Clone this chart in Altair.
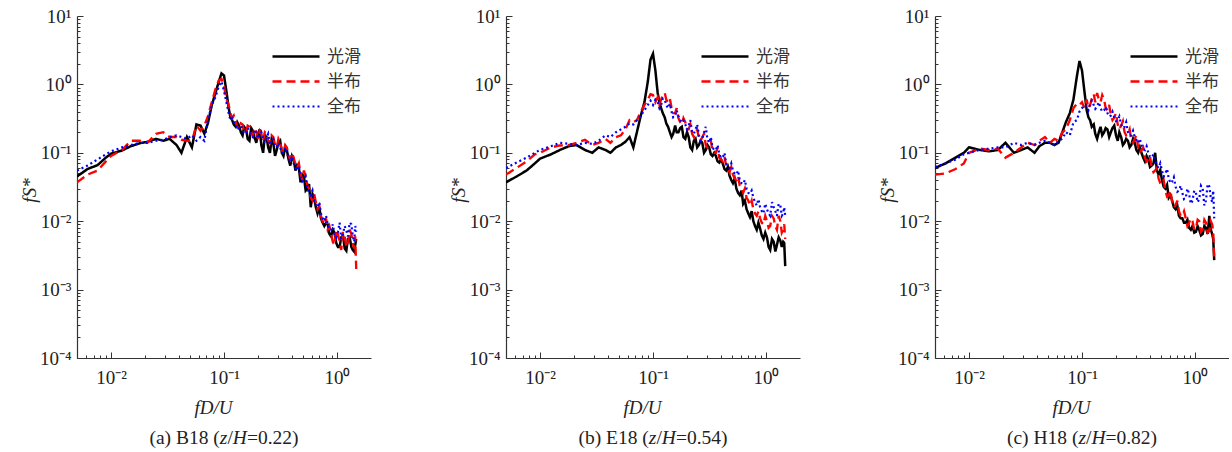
import altair as alt
import pandas as pd

# ---------------- data ----------------
FREQ = [0.005, 0.0062, 0.0076, 0.009, 0.01, 0.0125, 0.015, 0.018, 0.021, 0.025,
        0.029, 0.033, 0.038, 0.042, 0.047, 0.052, 0.057, 0.062, 0.067, 0.072,
        0.078, 0.084, 0.09, 0.095, 0.1, 0.105, 0.11, 0.118, 0.127, 0.136,
        0.146, 0.157, 0.168, 0.18, 0.193, 0.207, 0.222, 0.238, 0.255, 0.273,
        0.293, 0.314, 0.336, 0.36, 0.386, 0.414, 0.444, 0.476, 0.51, 0.547,
        0.586, 0.628, 0.673, 0.721, 0.773, 0.828, 0.887, 0.95, 1.02, 1.09,
        1.17, 1.25, 1.34, 1.42, 1.48]
# extra samples in the noisy high-frequency part
FREQ_HF = [0.114, 0.122, 0.131, 0.141, 0.151, 0.162, 0.174, 0.186, 0.2, 0.214,
           0.23, 0.246, 0.264, 0.283, 0.303, 0.325, 0.348, 0.373, 0.4, 0.429,
           0.46, 0.493, 0.528, 0.566, 0.607, 0.65, 0.697, 0.747, 0.8, 0.857,
           0.918, 0.985, 1.055, 1.13, 1.21, 1.295, 1.38, 1.45]

SERIES = ["光滑", "半布", "全布"]

B18_SMOOTH = [0.045, 0.058, 0.066, 0.085, 0.097, 0.108, 0.125, 0.138, 0.145, 0.16,
              0.15, 0.16, 0.13, 0.10, 0.17, 0.12, 0.26, 0.25, 0.19, 0.27,
              0.5, 0.75, 1.1, 1.45, 1.35, 0.8, 0.45, 0.3, 0.24, 0.25,
              0.18, 0.22, 0.15, 0.21, 0.14, 0.22, 0.1, 0.17, 0.1, 0.14,
              0.11, 0.15, 0.09, 0.11, 0.065, 0.08, 0.066, 0.037, 0.045, 0.03,
              0.016, 0.022, 0.013, 0.011, 0.0085, 0.009, 0.006, 0.0068, 0.0042, 0.0058,
              0.004, 0.0055, 0.0042, 0.0036, 0.0055]
B18_SMOOTH_HF = [0.33, 0.26, 0.28, 0.2, 0.24, 0.16, 0.23, 0.17, 0.19, 0.13,
                 0.18, 0.12, 0.16, 0.09, 0.14, 0.1, 0.12, 0.08, 0.09, 0.055,
                 0.06, 0.048, 0.028, 0.035, 0.025, 0.016, 0.016, 0.0095, 0.0095, 0.0065,
                 0.0075, 0.0048, 0.0042, 0.0062, 0.0037, 0.0058, 0.0038, 0.0045]
B18_HALF = [0.037, 0.048, 0.055, 0.075, 0.09, 0.11, 0.15, 0.15, 0.14, 0.19,
            0.2, 0.17, 0.17, 0.155, 0.15, 0.15, 0.25, 0.21, 0.25, 0.34,
            0.55, 0.85, 1.15, 1.2, 0.95, 0.6, 0.5, 0.32, 0.28, 0.22,
            0.26, 0.2, 0.24, 0.18, 0.2, 0.21, 0.15, 0.19, 0.14, 0.17,
            0.12, 0.14, 0.1, 0.12, 0.08, 0.085, 0.06, 0.05, 0.055, 0.033,
            0.022, 0.025, 0.015, 0.012, 0.009, 0.0075, 0.0065, 0.0045, 0.0065, 0.0038,
            0.006, 0.0045, 0.0065, 0.004, 0.002]
B18_HALF_HF = [0.38, 0.35, 0.24, 0.27, 0.2, 0.25, 0.19, 0.23, 0.16, 0.19,
               0.2, 0.15, 0.18, 0.13, 0.16, 0.11, 0.13, 0.09, 0.1, 0.065,
               0.07, 0.04, 0.045, 0.03, 0.02, 0.019, 0.017, 0.01, 0.011, 0.0085,
               0.005, 0.0075, 0.005, 0.007, 0.0042, 0.0075, 0.0048, 0.006]
B18_FULL = [0.055, 0.065, 0.08, 0.095, 0.105, 0.12, 0.13, 0.14, 0.14, 0.15,
            0.155, 0.17, 0.18, 0.17, 0.16, 0.18, 0.15, 0.17, 0.15, 0.3,
            0.5, 0.65, 0.95, 1.1, 0.8, 0.55, 0.38, 0.32, 0.27, 0.23,
            0.22, 0.2, 0.21, 0.17, 0.2, 0.18, 0.16, 0.17, 0.13, 0.16,
            0.12, 0.12, 0.1, 0.1, 0.075, 0.07, 0.055, 0.045, 0.04, 0.03,
            0.024, 0.02, 0.016, 0.013, 0.01, 0.009, 0.0075, 0.0065, 0.007, 0.0055,
            0.0085, 0.006, 0.009, 0.005, 0.007]
B18_FULL_HF = [0.3, 0.28, 0.22, 0.25, 0.19, 0.23, 0.18, 0.22, 0.16, 0.2,
               0.14, 0.19, 0.15, 0.13, 0.14, 0.1, 0.12, 0.085, 0.09, 0.06,
               0.065, 0.038, 0.045, 0.026, 0.028, 0.017, 0.019, 0.011, 0.012, 0.0075,
               0.009, 0.0058, 0.0095, 0.0065, 0.0072, 0.0095, 0.006, 0.0085]

E18_SMOOTH = [0.037, 0.045, 0.055, 0.07, 0.082, 0.095, 0.11, 0.125, 0.13, 0.11,
              0.1, 0.12, 0.11, 0.1, 0.12, 0.13, 0.145, 0.17, 0.12, 0.2,
              0.35, 0.55, 1.1, 2.3, 2.8, 1.6, 0.75, 0.45, 0.33, 0.24,
              0.17, 0.25, 0.2, 0.24, 0.16, 0.17, 0.11, 0.16, 0.13, 0.14,
              0.11, 0.12, 0.09, 0.09, 0.072, 0.07, 0.055, 0.046, 0.036, 0.03,
              0.024, 0.018, 0.015, 0.0115, 0.01, 0.0075, 0.0078, 0.0055, 0.0058, 0.0038,
              0.005, 0.0045, 0.0052, 0.005, 0.0022]
E18_SMOOTH_HF = [0.55, 0.38, 0.27, 0.2, 0.19, 0.2, 0.23, 0.17, 0.2, 0.12,
                 0.15, 0.12, 0.15, 0.1, 0.13, 0.095, 0.1, 0.075, 0.08, 0.058,
                 0.062, 0.04, 0.042, 0.026, 0.028, 0.02, 0.013, 0.014, 0.0085, 0.0095,
                 0.0062, 0.0068, 0.0042, 0.0055, 0.0036, 0.0058, 0.0042, 0.0048]
E18_HALF = [0.048, 0.06, 0.075, 0.095, 0.1, 0.12, 0.128, 0.13, 0.14, 0.155,
            0.13, 0.14, 0.16, 0.14, 0.17, 0.18, 0.22, 0.3, 0.28, 0.3,
            0.4, 0.5, 0.6, 0.72, 0.7, 0.55, 0.65, 0.6, 0.75, 0.55,
            0.45, 0.38, 0.32, 0.26, 0.28, 0.22, 0.19, 0.2, 0.16, 0.17,
            0.13, 0.135, 0.11, 0.1, 0.085, 0.075, 0.065, 0.052, 0.048, 0.04,
            0.033, 0.026, 0.022, 0.017, 0.015, 0.012, 0.011, 0.009, 0.01, 0.0085,
            0.011, 0.0075, 0.01, 0.0075, 0.0055]
E18_HALF_HF = [0.5, 0.7, 0.6, 0.62, 0.38, 0.45, 0.28, 0.32, 0.22, 0.26,
               0.17, 0.22, 0.15, 0.19, 0.12, 0.15, 0.1, 0.12, 0.08, 0.088,
               0.06, 0.062, 0.042, 0.046, 0.03, 0.03, 0.02, 0.02, 0.013, 0.014,
               0.0095, 0.012, 0.008, 0.012, 0.0085, 0.012, 0.0068, 0.009]
E18_FULL = [0.06, 0.072, 0.085, 0.1, 0.11, 0.125, 0.14, 0.135, 0.13, 0.14,
            0.135, 0.15, 0.18, 0.17, 0.2, 0.22, 0.24, 0.27, 0.26, 0.3,
            0.35, 0.42, 0.5, 0.58, 0.5, 0.6, 0.55, 0.5, 0.6, 0.45,
            0.4, 0.35, 0.34, 0.28, 0.26, 0.25, 0.2, 0.22, 0.18, 0.16,
            0.24, 0.14, 0.12, 0.11, 0.095, 0.085, 0.07, 0.06, 0.055, 0.048,
            0.04, 0.035, 0.03, 0.025, 0.022, 0.017, 0.016, 0.013, 0.015, 0.012,
            0.016, 0.012, 0.017, 0.013, 0.012]
E18_FULL_HF = [0.45, 0.62, 0.5, 0.52, 0.33, 0.42, 0.3, 0.3, 0.22, 0.3,
               0.19, 0.26, 0.15, 0.2, 0.16, 0.17, 0.11, 0.13, 0.085, 0.1,
               0.065, 0.07, 0.05, 0.055, 0.036, 0.04, 0.026, 0.028, 0.019, 0.021,
               0.014, 0.018, 0.013, 0.019, 0.014, 0.018, 0.012, 0.016]

H18_SMOOTH = [0.06, 0.07, 0.085, 0.1, 0.12, 0.11, 0.105, 0.11, 0.14, 0.1,
              0.11, 0.12, 0.1, 0.125, 0.14, 0.14, 0.13, 0.14, 0.2, 0.28,
              0.38, 0.6, 1.3, 2.2, 1.6, 0.8, 0.42, 0.3, 0.26, 0.16,
              0.24, 0.2, 0.22, 0.2, 0.25, 0.15, 0.17, 0.14, 0.15, 0.13,
              0.14, 0.1, 0.1, 0.075, 0.08, 0.065, 0.1, 0.048, 0.04, 0.03,
              0.022, 0.02, 0.015, 0.012, 0.011, 0.0095, 0.008, 0.0085, 0.007, 0.0075,
              0.0065, 0.008, 0.012, 0.0065, 0.0027]
H18_SMOOTH_HF = [0.33, 0.24, 0.19, 0.2, 0.18, 0.23, 0.17, 0.23, 0.18, 0.2,
                 0.13, 0.16, 0.12, 0.16, 0.11, 0.12, 0.085, 0.09, 0.062, 0.07,
                 0.055, 0.056, 0.032, 0.034, 0.024, 0.016, 0.017, 0.011, 0.0095, 0.0105,
                 0.0075, 0.0068, 0.0085, 0.0062, 0.0085, 0.0065, 0.0075, 0.0055]
H18_HALF = [0.048, 0.05, 0.058, 0.07, 0.1, 0.115, 0.11, 0.115, 0.085, 0.1,
            0.12, 0.14, 0.13, 0.15, 0.17, 0.14, 0.16, 0.15, 0.2, 0.22,
            0.3, 0.45, 0.52, 0.5, 0.55, 0.45, 0.6, 0.5, 0.72, 0.75,
            0.55, 0.6, 0.42, 0.35, 0.33, 0.26, 0.25, 0.2, 0.19, 0.15,
            0.16, 0.12, 0.11, 0.085, 0.08, 0.06, 0.055, 0.042, 0.035, 0.028,
            0.024, 0.019, 0.017, 0.014, 0.012, 0.011, 0.0095, 0.01, 0.008, 0.01,
            0.0075, 0.0095, 0.0072, 0.009, 0.0027]
H18_HALF_HF = [0.45, 0.62, 0.55, 0.6, 0.7, 0.45, 0.5, 0.3, 0.38, 0.22,
               0.29, 0.18, 0.22, 0.14, 0.18, 0.1, 0.12, 0.075, 0.09, 0.052,
               0.06, 0.036, 0.04, 0.023, 0.028, 0.016, 0.02, 0.012, 0.014, 0.0085,
               0.011, 0.0075, 0.0105, 0.007, 0.0105, 0.0068, 0.01, 0.007]
H18_FULL = [0.062, 0.07, 0.08, 0.095, 0.1, 0.11, 0.115, 0.12, 0.12, 0.14,
            0.13, 0.14, 0.13, 0.14, 0.15, 0.14, 0.13, 0.15, 0.16, 0.2,
            0.18, 0.28, 0.3, 0.4, 0.45, 0.5, 0.48, 0.52, 0.5, 0.48,
            0.45, 0.42, 0.38, 0.35, 0.33, 0.3, 0.26, 0.24, 0.2, 0.18,
            0.17, 0.14, 0.13, 0.11, 0.1, 0.085, 0.075, 0.06, 0.055, 0.05,
            0.042, 0.038, 0.032, 0.028, 0.026, 0.022, 0.025, 0.02, 0.026, 0.021,
            0.03, 0.02, 0.032, 0.019, 0.011]
H18_FULL_HF = [0.42, 0.58, 0.44, 0.55, 0.4, 0.47, 0.34, 0.4, 0.29, 0.34,
               0.23, 0.28, 0.18, 0.21, 0.15, 0.16, 0.115, 0.125, 0.088, 0.095,
               0.065, 0.07, 0.045, 0.058, 0.036, 0.044, 0.027, 0.033, 0.021, 0.03,
               0.018, 0.028, 0.019, 0.033, 0.017, 0.035, 0.022, 0.028]

CAPTION_LABELS = ["(a) B18", "(b) E18", "(c) H18"]
CAPTION_VALUES = ["0.22", "0.54", "0.82"]
PANEL_SERIES = [
    [(B18_SMOOTH, B18_SMOOTH_HF), (B18_HALF, B18_HALF_HF), (B18_FULL, B18_FULL_HF)],
    [(E18_SMOOTH, E18_SMOOTH_HF), (E18_HALF, E18_HALF_HF), (E18_FULL, E18_FULL_HF)],
    [(H18_SMOOTH, H18_SMOOTH_HF), (H18_HALF, H18_HALF_HF), (H18_FULL, H18_FULL_HF)],
]

X_MAJOR = [0.01, 0.1, 1]
X_MINOR = [0.005, 0.006, 0.007, 0.008, 0.009,
           0.02, 0.03, 0.04, 0.05, 0.06, 0.07, 0.08, 0.09,
           0.2, 0.3, 0.4, 0.5, 0.6, 0.7, 0.8, 0.9]
Y_MAJOR = [0.0001, 0.001, 0.01, 0.1, 1, 10]
Y_MINOR = [k * m for m in (0.0001, 0.001, 0.01, 0.1, 1) for k in range(2, 10)]

# ---------------- style ----------------
W, H = 294, 342
FONT = "Liberation Serif"
CJK = "Noto Sans CJK SC"
TXT = "#222222"
AX = "#333333"
LABEL_EXPR = ("'10' + (datum.value < 0.5 ? '\u207b' : '') + "
              "['\u2070','\u00b9','\u00b2','\u00b3','\u2074','\u2075']"
              "[abs(round(log(datum.value) / LN10))]")

EM_N = {"(": 0.333, ")": 0.333, "a": 0.444, "b": 0.5, "c": 0.444, " ": 0.25,
        "B": 0.667, "E": 0.611, "H": 0.722, "/": 0.278, "=": 0.564, ".": 0.25}
EM_I = {"z": 0.389, "H": 0.722}
CAP_SIZE = 19.5
TICK_SIZE = 19
TITLE_SIZE = 19


def text_width(s, italic=False):
    table = EM_I if italic else EM_N
    return sum(table.get(ch, 0.5) for ch in s) * CAP_SIZE


def panel(idx):
    rows = []
    for name, (vals, hf) in zip(SERIES, PANEL_SERIES[idx]):
        assert len(vals) == len(FREQ) and len(hf) == len(FREQ_HF), name
        for f, v in zip(FREQ, vals):
            rows.append({"f": f, "S": v, "series": name})
        for f, v in zip(FREQ_HF, hf):
            rows.append({"f": f, "S": v, "series": name})
    df = pd.DataFrame(rows)

    xs = alt.Scale(type="log", domain=[0.005, 2], nice=False)
    ys = alt.Scale(type="log", domain=[0.0001, 10], nice=False)

    legend = alt.Legend(title=None, orient="none", legendX=194, legendY=28,
                        symbolType="stroke", symbolSize=2209, symbolStrokeWidth=2.5,
                        labelFont=CJK, labelFontSize=17, labelColor="#333333",
                        labelOffset=6, padding=0, rowPadding=0, clipHeight=25)

    lines = alt.Chart(df).mark_line(clip=True).encode(
        x=alt.X("f:Q", scale=xs, axis=alt.Axis(
            orient="bottom", values=X_MAJOR, labelExpr=LABEL_EXPR, ticks=False,
            tickSize=0, labelPadding=10, domainColor=AX, domainWidth=1.2, grid=False,
            labelFont=FONT, labelFontSize=TICK_SIZE, labelColor=TXT, labelFlush=False,
            labelOverlap=False, title="fD/U", titleFont=FONT, titleFontSize=TITLE_SIZE,
            titleFontStyle="italic", titleFontWeight="normal", titleColor=TXT,
            titleX=136, titleY=55, titleBaseline="alphabetic", titleAlign="center")),
        y=alt.Y("S:Q", scale=ys, axis=alt.Axis(
            orient="left", values=Y_MAJOR, labelExpr=LABEL_EXPR, ticks=False,
            tickSize=0, labelPadding=6, domainColor=AX, domainWidth=1.2, grid=False,
            labelFont=FONT, labelFontSize=TICK_SIZE, labelColor=TXT, labelFlush=False,
            labelOverlap=False, title="fS*", titleFont=FONT, titleFontSize=TITLE_SIZE,
            titleFontStyle="italic", titleFontWeight="normal", titleColor=TXT,
            titleAngle=270, titleX=-48, titleY=174, titleBaseline="middle",
            titleAlign="center")),
        color=alt.Color("series:N", scale=alt.Scale(
            domain=SERIES, range=["#000000", "#ff0000", "#0000ff"]), legend=legend),
        strokeDash=alt.StrokeDash("series:N", scale=alt.Scale(
            domain=SERIES, range=[[1, 0], [9, 5], [2, 3]]), legend=legend),
        strokeWidth=alt.StrokeWidth("series:N", scale=alt.Scale(
            domain=SERIES, range=[2.5, 2.2, 2]), legend=None),
    )

    def ticks(xv, yv, size):
        return alt.Chart(df).mark_point(opacity=0, size=0).encode(
            x=alt.X("f:Q", scale=xs, axis=alt.Axis(
                orient="top", offset=-H, values=xv, labels=False, domain=False,
                title=None, tickSize=size, tickColor=AX, tickWidth=1, grid=False)),
            y=alt.Y("S:Q", scale=ys, axis=alt.Axis(
                orient="right", offset=-W, values=yv, labels=False, domain=False,
                title=None, tickSize=size, tickColor=AX, tickWidth=1, grid=False)),
        )

    layers = [lines, ticks(X_MAJOR, Y_MAJOR, 6), ticks(X_MINOR, Y_MINOR, 3)]

    segs = [(CAPTION_LABELS[idx] + " (", False), ("z", True), ("/", False),
            ("H", True), ("=" + CAPTION_VALUES[idx] + ")", False)]
    total = sum(text_width(s, it) for s, it in segs)
    x0 = W / 2 - total / 2
    for s, it in segs:
        layers.append(
            alt.Chart(alt.Data(values=[{}])).mark_text(
                text=s, font=FONT, fontSize=CAP_SIZE,
                fontStyle="italic" if it else "normal", align="left",
                baseline="alphabetic", color=TXT
            ).encode(x=alt.value(x0), y=alt.value(428))
        )
        x0 += text_width(s, it)

    return alt.layer(*layers).resolve_axis(x="independent", y="independent").properties(
        width=W, height=H)


chart = alt.hconcat(panel(0), panel(1), panel(2), spacing=135, bounds="flush").resolve_scale(
    color="independent", strokeDash="independent", strokeWidth="independent"
).properties(
    padding={"left": 20, "top": 7, "right": 0, "bottom": 0},
    background="white",
).configure_view(stroke=None)

chart.save("out.html", embed_options={"renderer": "svg", "actions": False})
